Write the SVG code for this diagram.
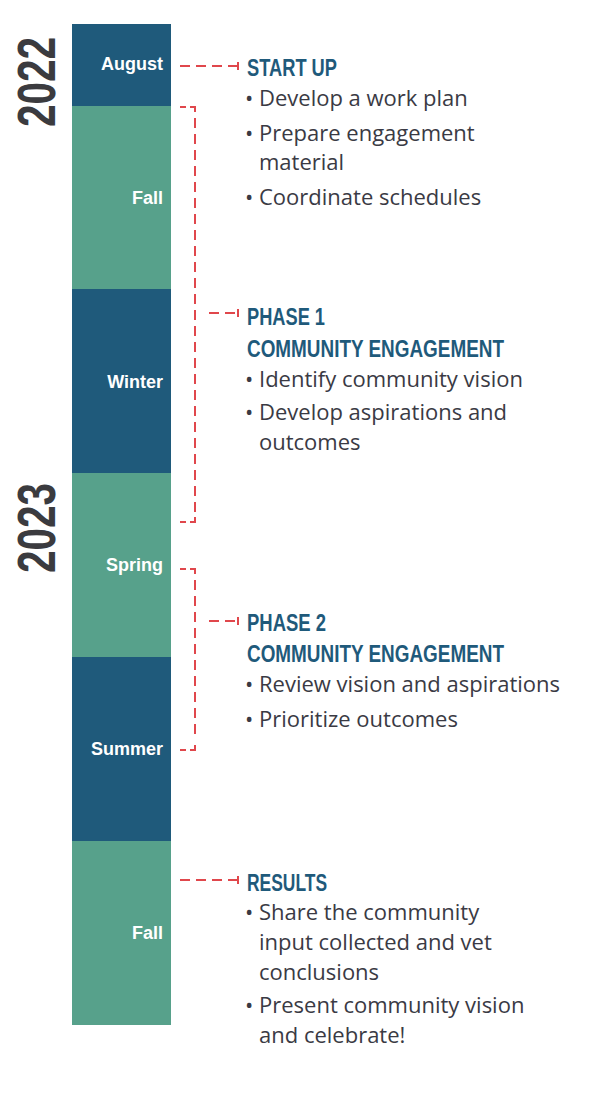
<svg xmlns="http://www.w3.org/2000/svg" width="596" height="1094" viewBox="0 0 596 1094">
<style>
.dark{fill:#1f5a7b}
.teal{fill:#57a18b}
.season{font-family:"Liberation Sans",Arial,sans-serif;font-weight:bold;font-size:18px;fill:#ffffff;text-anchor:end}
.year{font-family:"Liberation Sans",Arial,sans-serif;font-weight:bold;font-size:53px;fill:#3b3b3f;text-anchor:middle}
.head{font-family:"Liberation Sans",Arial,sans-serif;font-weight:bold;font-size:23px;fill:#1f5a7b}
.body{font-family:"Open Sans","Liberation Sans",Arial,sans-serif;font-size:22px;fill:#3a3a44}
.conn{fill:none;stroke:#e0474c;stroke-width:2;stroke-dasharray:10 6}
.tick{fill:none;stroke:#e0474c;stroke-width:2}
</style>
<rect width="596" height="1094" fill="#ffffff"/>
<g id="years">
<text class="year" transform="translate(55,82) rotate(-90)" textLength="90" lengthAdjust="spacingAndGlyphs">2022</text>
<text class="year" transform="translate(55,528) rotate(-90)" textLength="90" lengthAdjust="spacingAndGlyphs">2023</text>
</g>
<g id="timeline">
<g id="august"><rect class="dark" x="72" y="24" width="99" height="82"/><text class="season" x="163" y="70">August</text></g>
<g id="fall2022"><rect class="teal" x="72" y="106" width="99" height="183"/><text class="season" x="163" y="204">Fall</text></g>
<g id="winter"><rect class="dark" x="72" y="289" width="99" height="184"/><text class="season" x="163" y="388">Winter</text></g>
<g id="spring"><rect class="teal" x="72" y="473" width="99" height="184"/><text class="season" x="163" y="571">Spring</text></g>
<g id="summer"><rect class="dark" x="72" y="657" width="99" height="184"/><text class="season" x="163" y="755">Summer</text></g>
<g id="fall2023"><rect class="teal" x="72" y="841" width="99" height="184"/><text class="season" x="163" y="939">Fall</text></g>
</g>
<g id="connectors">
<path class="conn" d="M180 66 H238"/><path class="tick" d="M238 62 V70"/>
<path class="tick" d="M180 107 H186 M190 107 H195 V112 M180 522 H186 M190 522 H195 V517"/>
<path class="conn" d="M195 118 V512"/>
<path class="conn" d="M209 313 H238"/><path class="tick" d="M238 309 V317"/>
<path class="tick" d="M180 569 H186 M190 569 H195 V574 M180 750 H186 M190 750 H195 V745"/>
<path class="conn" d="M195 580 V740"/>
<path class="conn" d="M209 621 H238"/><path class="tick" d="M238 617 V625"/>
<path class="conn" d="M180 880 H238"/><path class="tick" d="M238 876 V884"/>
</g>
<g id="startup">
<text class="head" x="247" y="76" textLength="90" lengthAdjust="spacingAndGlyphs">START UP</text>
<text class="body"><tspan x="245" y="106">•</tspan><tspan x="259" y="106">Develop a work plan</tspan></text>
<text class="body"><tspan x="245" y="141">•</tspan><tspan x="259" y="141">Prepare engagement</tspan><tspan x="259" y="170">material</tspan></text>
<text class="body"><tspan x="245" y="205">•</tspan><tspan x="259" y="205">Coordinate schedules</tspan></text>
</g>
<g id="phase1">
<text class="head" x="247" y="325" textLength="78" lengthAdjust="spacingAndGlyphs">PHASE 1</text>
<text class="head" x="247" y="357" textLength="257" lengthAdjust="spacingAndGlyphs">COMMUNITY ENGAGEMENT</text>
<text class="body"><tspan x="245" y="387">•</tspan><tspan x="259" y="387">Identify community vision</tspan></text>
<text class="body"><tspan x="245" y="420">•</tspan><tspan x="259" y="420">Develop aspirations and</tspan><tspan x="259" y="450">outcomes</tspan></text>
</g>
<g id="phase2">
<text class="head" x="247" y="631" textLength="79" lengthAdjust="spacingAndGlyphs">PHASE 2</text>
<text class="head" x="247" y="662" textLength="257" lengthAdjust="spacingAndGlyphs">COMMUNITY ENGAGEMENT</text>
<text class="body"><tspan x="245" y="692">•</tspan><tspan x="259" y="692">Review vision and aspirations</tspan></text>
<text class="body"><tspan x="245" y="727">•</tspan><tspan x="259" y="727">Prioritize outcomes</tspan></text>
</g>
<g id="results">
<text class="head" x="247" y="891" textLength="80" lengthAdjust="spacingAndGlyphs">RESULTS</text>
<text class="body"><tspan x="245" y="920">•</tspan><tspan x="259" y="920">Share the community</tspan><tspan x="259" y="950">input collected and vet</tspan><tspan x="259" y="980">conclusions</tspan></text>
<text class="body"><tspan x="245" y="1013">•</tspan><tspan x="259" y="1013">Present community vision</tspan><tspan x="259" y="1043">and celebrate!</tspan></text>
</g>
</svg>
